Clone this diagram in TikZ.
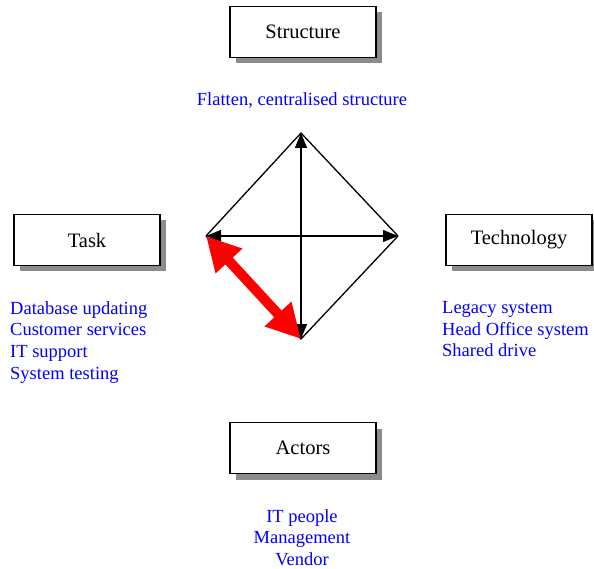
\documentclass[tikz,border=0pt]{standalone}
\usepackage{fontspec}
\setmainfont{Liberation Serif}
\usetikzlibrary{arrows.meta,shadows}

\tikzset{
	factor/.style = {draw, line width = 1.3pt, fill = white, minimum width = 146pt, minimum height = 51pt,
		font = \fontsize{20.5}{24}\selectfont,
		drop shadow = {shadow xshift = 6pt, shadow yshift = -6pt, fill = gray!90, opacity = 1}},
	notes/.style = {text = blue, inner sep = 0pt, font = \fontsize{18.5}{21.7}\selectfont},
	edge/.style = {line width = 1.3pt},
	link/.style = {line width = 1.3pt, {Triangle[length = 15pt, width = 12pt]}-{Triangle[length = 15pt, width = 12pt]}},
	focus/.style = {red, line width = 10pt, {Triangle[length = 34pt, width = 34pt]}-{Triangle[length = 34pt, width = 34pt]}}
}

\begin{document}
\begin{tikzpicture}[x = 1pt, y = -1pt]
	
		\useasboundingbox (0, 0) rectangle (594, 569);
		
		\node[factor] (structure) at (303, 32) {Structure};
		\node[factor] (task) at (87, 240) {Task};
		\node[factor] (technology) at (519, 240) {Technology};
		\node[factor] (actors) at (303, 448) {Actors};
		
		\node[notes] (structurenotes) at (302, 101) {Flatten, centralised structure};
		\node[notes, align = left, anchor = north west] (tasknotes) at (10, 301) {Database updating\\Customer services\\IT support\\System testing};
		\node[notes, align = left, anchor = north west] (technologynotes) at (442, 301) {Legacy system\\Head Office system\\Shared drive};
		\node[notes, align = center, anchor = north] (actorsnotes) at (302, 509) {IT people\\Management\\Vendor};
		
		\coordinate (top) at (301, 133);
		\coordinate (left) at (206, 236);
		\coordinate (right) at (398, 236);
		\coordinate (bottom) at (301, 339);
		
		\draw[edge, line join = round] (top) -- (right) -- (bottom) -- (left) -- cycle;
		
		\draw[link] (bottom) -- (top);
		\draw[link] (left) -- (right);
		
		\draw[focus] (left) -- (bottom);
		
	\end{tikzpicture}
\end{document}
